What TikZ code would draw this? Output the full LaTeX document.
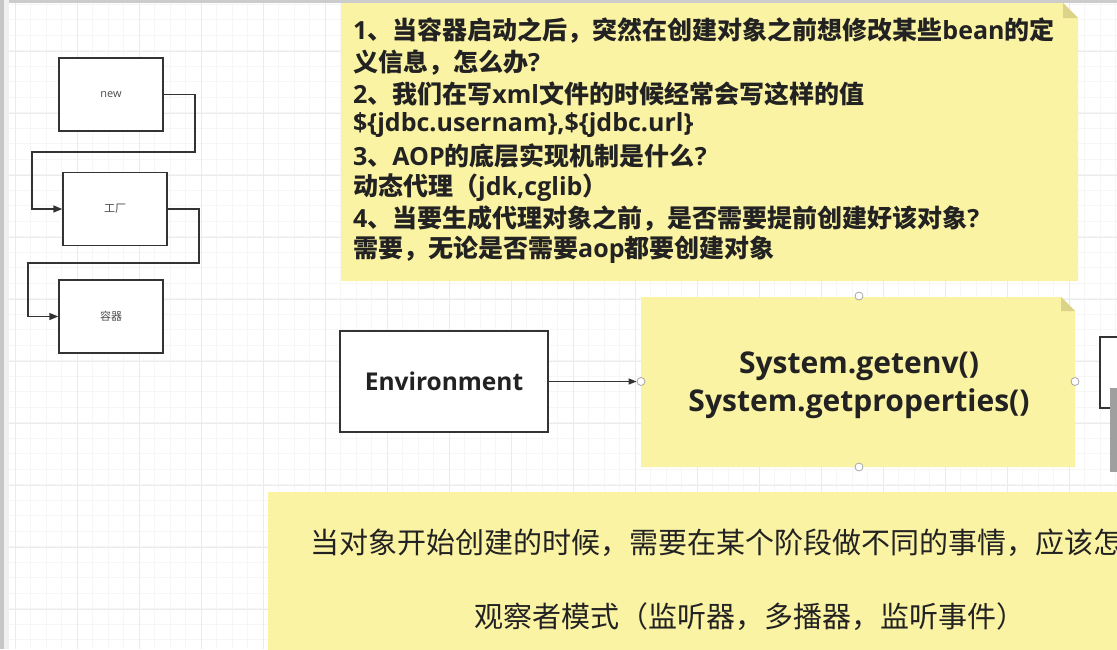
\documentclass[tikz,border=0pt]{standalone}
\usepackage{fontspec}
\usetikzlibrary{arrows.meta,calc}
\newfontfamily\cjk{Noto Sans CJK SC}
\newfontfamily\lat{Open Sans}
\newcommand{\La}[1]{{\lat\bfseries #1}}
\definecolor{noteyellow}{HTML}{FBF3A4}
\definecolor{notefold}{HTML}{DCD38A}
\definecolor{txt}{HTML}{222222}
\tikzset{
  flowbox/.style={draw=black!80, line width=1.4pt, fill=white, minimum width=104, minimum height=73, inner sep=0, font=\cjk\fontsize{11}{13}\selectfont, text=black!70},
  conn/.style={draw=black!80, line width=1.4pt, -{Triangle[length=9pt,width=7pt]}},
  handle/.style={circle, draw=gray!70, fill=white, inner sep=0, minimum size=8, line width=0.8pt},
  qline/.style={anchor=west, inner sep=0, text=txt, font=\cjk\bfseries\fontsize{25}{28}\selectfont},
  bline/.style={anchor=west, inner sep=0, text=txt, font=\cjk\fontsize{29}{32}\selectfont},
}
\begin{document}
\begin{tikzpicture}[x=1pt,y=-1pt]
\useasboundingbox (0,0) rectangle (1117,649);
\clip (0,0) rectangle (1117,649);
\fill[white] (0,0) rectangle (1117,649);
% grid
\foreach \i in {0,...,72} {
  \draw[gray!7, line width=0.6pt] ({-0.5+15.5*\i},0) -- ({-0.5+15.5*\i},649);
}
\foreach \i in {0,...,42} {
  \draw[gray!7, line width=0.6pt] (0,{4+15.5*\i}) -- (1117,{4+15.5*\i});
}
\foreach \i in {0,...,18} {
  \draw[gray!16, line width=0.7pt] ({15+62*\i},0) -- ({15+62*\i},649);
}
\foreach \i in {0,...,11} {
  \draw[gray!16, line width=0.7pt] (0,{51+62*\i}) -- (1117,{51+62*\i});
}
% window edges
\fill[gray!40] (0,0) rectangle (1117,2.5);
\fill[gray!45] (0,0) rectangle (4,649);
\fill[gray!12] (4,0) rectangle (9,649);

% left flow
\node[flowbox] (new) at (111,94.5) {\lat new};
\node[flowbox] (fac) at (115,209) {工厂};
\node[flowbox] (cont) at (111,316.5) {容器};
\draw[conn] (new.east) -- (195,94.5) -- (195,152) -- (32,152) |- (fac.west);
\draw[conn] (fac.east) -- (199,209) -- (199,263) -- (28,263) |- (cont.west);

% top note
\fill[noteyellow] (341,3) -- (1063,3) -- (1078,18) -- (1078,281) -- (341,281) -- cycle;
\fill[notefold] (1063,3) -- (1078,18) -- (1063,18) -- cycle;
\node[qline] (q1) at (353,31) {\La{1}、当容器启动之后，突然在创建对象之前想修改某些\La{bean}的定};
\node[qline] (q2) at (353,62.3) {义信息，怎么办\La{?}};
\node[qline] (q3) at (353,93.6) {\La{2}、我们在写\La{xml}文件的时候经常会写这样的值};
\node[qline] (q4) at (353,124.9) {\La{\$\{jdbc.usernam\},\$\{jdbc.url\}}};
\node[qline] (q5) at (353,156.2) {\La{3}、\La{AOP}的底层实现机制是什么\La{?}};
\node[qline] (q6) at (353,187.5) {动态代理（\La{jdk,cglib}）};
\node[qline] (q7) at (353,218.8) {\La{4}、当要生成代理对象之前，是否需要提前创建好该对象\La{?}};
\node[qline] (q8) at (353,250.1) {需要，无论是否需要\La{aop}都要创建对象};

% Environment
\node[draw=black!80, line width=1.3pt, fill=white, minimum width=208, minimum height=101, inner sep=0, text=txt, font=\lat\bfseries\fontsize{24.5}{28}\selectfont] (env) at (444,381.5) {Environment};

% System note
\fill[noteyellow] (641,297) -- (1061,297) -- (1075,311) -- (1075,467) -- (641,467) -- cycle;
\fill[notefold] (1061,297) -- (1075,311) -- (1061,311) -- cycle;
\node[align=center, inner sep=0, text=txt, font=\lat\bfseries\fontsize{30}{38}\selectfont] (sys) at (859,385) {System.getenv()\\System.getproperties()};
\node[handle] (hT) at (859,296) {};
\node[handle] (hB) at (859,467) {};
\node[handle] (hL) at (641,381.5) {};
\node[handle] (hR) at (1075,381.5) {};
\draw[draw=black!80, line width=1.3pt, -{Triangle[length=8pt,width=6pt]}] (env.east) -- (hL.west);

% right partial box and bar
\draw[black!80, line width=1.3pt, fill=white] (1100,337) rectangle (1130,408);
\fill[gray!75] (1110,388) rectangle (1117,472);

% bottom note
\fill[noteyellow] (268,492) rectangle (1130,660);
\node[bline] (b1) at (310,543) {当对象开始创建的时候，需要在某个阶段做不同的事情，应该怎};
\node[bline] (b2) at (474,617) {观察者模式（监听器，多播器，监听事件）};
\end{tikzpicture}
\end{document}
